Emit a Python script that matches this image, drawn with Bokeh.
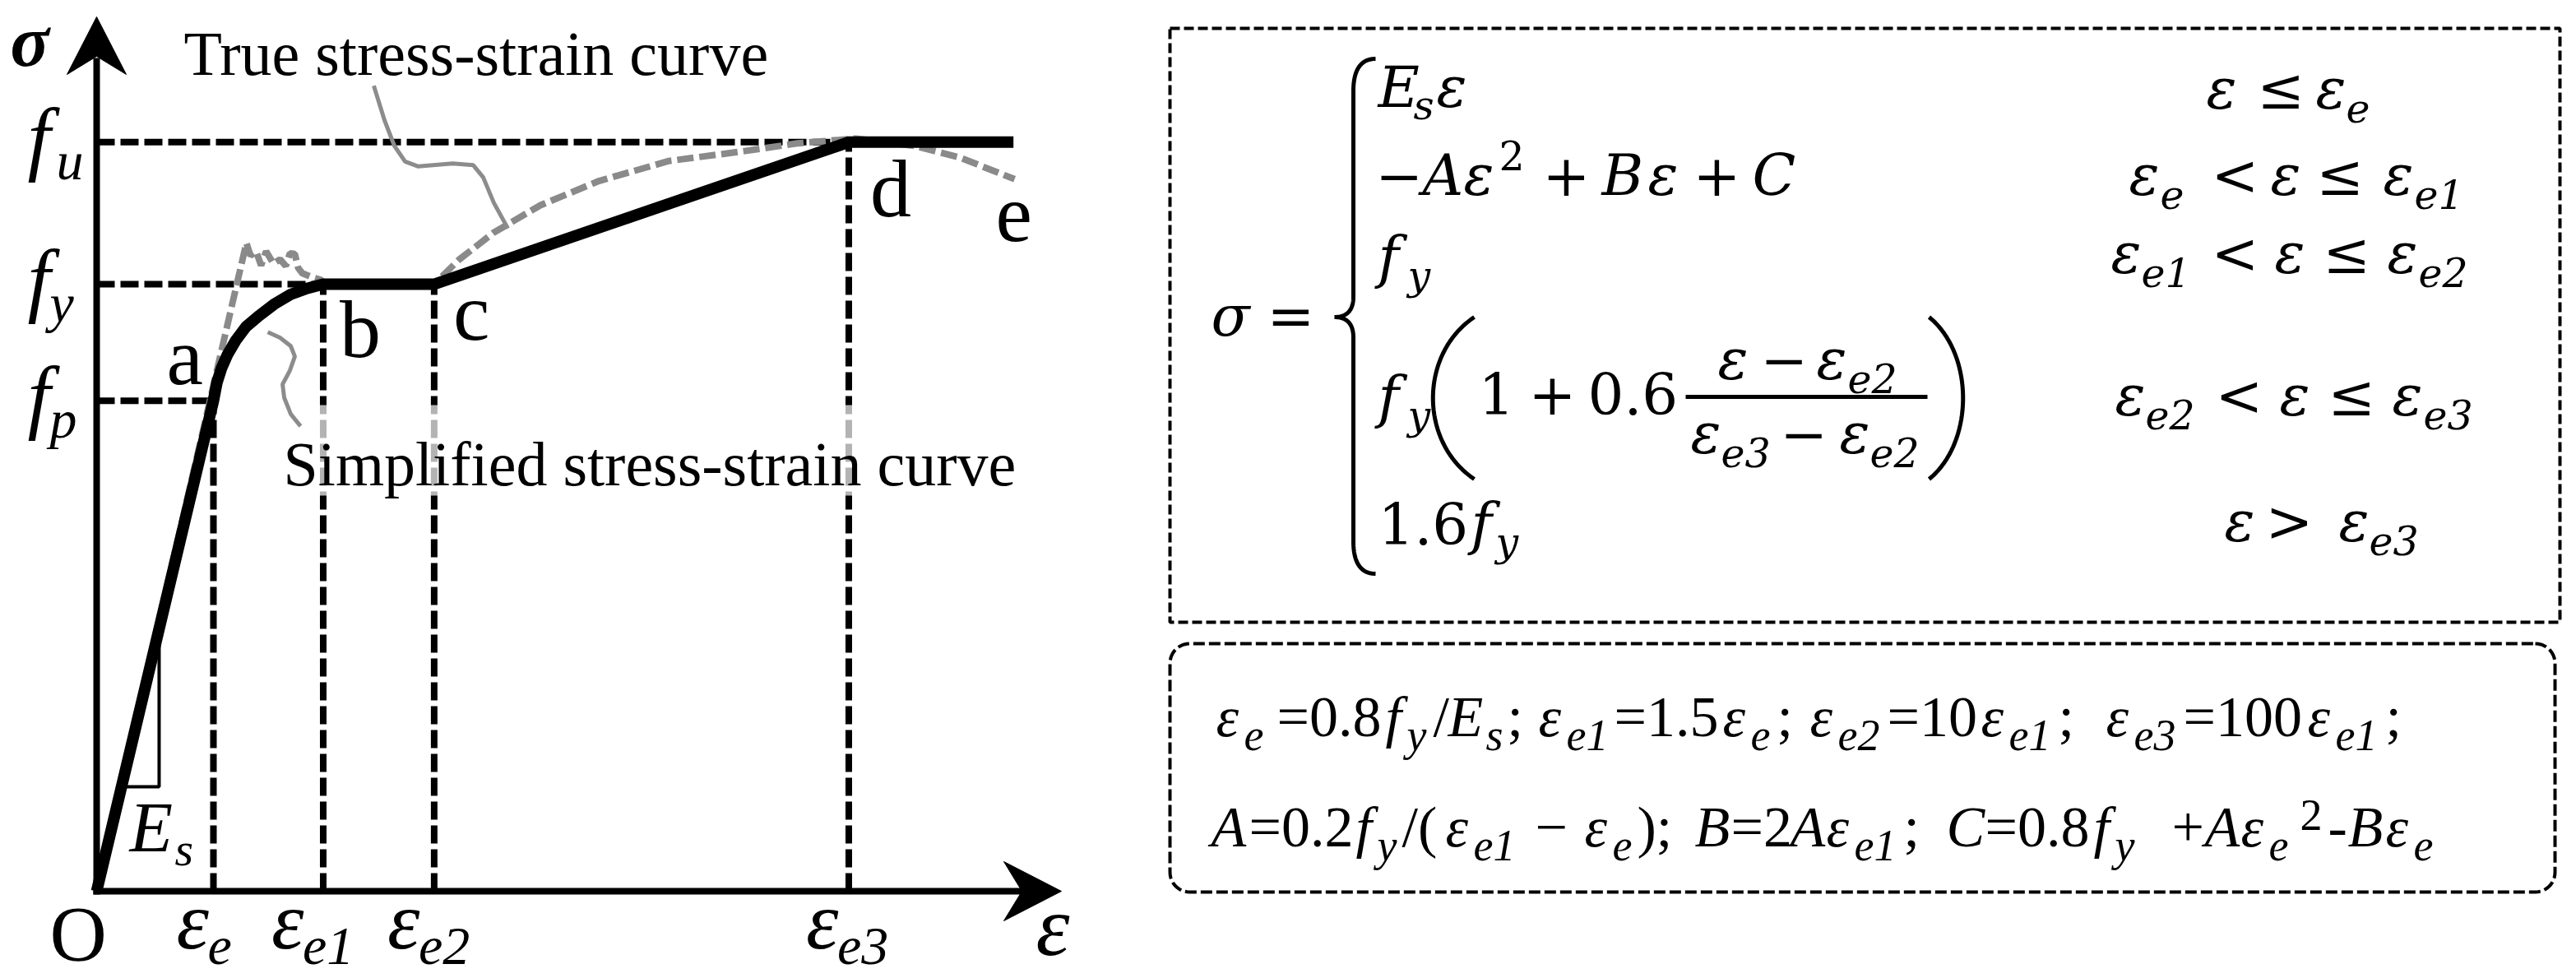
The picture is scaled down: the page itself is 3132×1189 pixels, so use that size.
import numpy as np
from bokeh.plotting import figure
from bokeh.layouts import row
from bokeh.models import Range1d
from bokeh.core.properties import value
from bokeh.embed import file_html
from bokeh.resources import INLINE

SERIF = "Liberation Serif"
MATH = "DejaVu Serif"
BASE_SHIFT = {SERIF: 0.3375, MATH: 0.346}   # baseline offset below a "middle"-anchored y (em)

# ---------------- data (schematic values) ----------------
tick_main = ["O", "ε", "ε", "ε", "ε"]
tick_sub = ["", "e", "e1", "e2", "e3"]
eps_ticks = [0.0, 1.00, 1.94, 2.89, 6.44]

stress_sub = ["p", "y", "u"]
stress_levels = [0.808, 1.000, 1.234]
stress_reach = [1.00, 1.94, 6.44]
vert_tops = [0.808, 1.000, 1.000, 1.234]

simp_eps = [0.0, 1.00, 1.03, 1.07, 1.12, 1.19, 1.28, 1.39, 1.52, 1.66, 1.80, 1.94, 2.89, 6.44, 7.85]
simp_sig = [0.0, 0.808, 0.838, 0.862, 0.884, 0.907, 0.930, 0.948, 0.967, 0.983, 0.993, 1.000, 1.000, 1.234, 1.234]

true_eps = [0.0, 1.282, 1.317, 1.366, 1.408, 1.451, 1.514, 1.570, 1.620, 1.655, 1.697, 1.725, 1.761,
            1.852, 1.923, 1.94, 2.89, 3.10, 3.40, 3.80, 4.30, 4.90, 5.50, 6.00, 6.50, 7.00, 7.40, 7.86]
true_sig = [0.0, 1.068, 1.047, 1.054, 1.031, 1.054, 1.034, 1.041, 1.030, 1.051, 1.050, 1.027, 1.018,
            1.011, 1.007, 1.000, 1.000, 1.040, 1.085, 1.130, 1.170, 1.203, 1.218, 1.232, 1.240, 1.228, 1.208, 1.173]

lead_true_eps = [2.373, 2.465, 2.549, 2.641, 2.754, 3.049, 3.225, 3.310, 3.401, 3.521]
lead_true_sig = [1.327, 1.270, 1.228, 1.202, 1.194, 1.199, 1.196, 1.176, 1.134, 1.092]
lead_simp_eps = [1.465, 1.570, 1.662, 1.697, 1.655, 1.592, 1.606, 1.662, 1.746]
lead_simp_sig = [0.921, 0.912, 0.898, 0.881, 0.858, 0.835, 0.813, 0.786, 0.766]

point_names = ["a", "b", "c", "d", "e"]
point_eps = [1.00, 1.94, 2.89, 6.44, 7.86]
point_sig = [0.808, 1.000, 1.000, 1.234, 1.173]

es_tri_eps = [0.213, 0.535, 0.535]
es_tri_sig = [0.172, 0.172, 0.432]

# ---------------- left panel ----------------
W1, H = 1400, 1189
PX0, PY0, KX, KY = 117.0, 1083.0, 142.0, 738.0
def X(px): return (px - PX0) / KX
def Y(py): return (PY0 - py) / KY
def PX(e): return PX0 + e * KX
def PY(s): return PY0 - s * KY

p1 = figure(width=W1, height=H, x_range=Range1d(X(0), X(W1)), y_range=Range1d(Y(H), Y(0)),
            output_backend="svg", toolbar_location=None, min_border=0,
            x_axis_location=None, y_axis_location=None)
p1.grid.grid_line_color = None
p1.outline_line_color = None

p1.segment(x0=[0.0] * 3, y0=stress_levels, x1=stress_reach, y1=stress_levels,
           line_color="black", line_width=8, line_dash="22 7")
p1.segment(x0=eps_ticks[1:], y0=[0.0] * 4, x1=eps_ticks[1:], y1=vert_tops,
           line_color="black", line_width=8, line_dash="22 7")

p1.line(true_eps, true_sig, line_color="#8a8a8a", line_width=8, line_dash="20 7")
p1.line(lead_true_eps, lead_true_sig, line_color="#8c8c8c", line_width=5)
p1.line(lead_simp_eps, lead_simp_sig, line_color="#8c8c8c", line_width=5)

p1.line(simp_eps, simp_sig, line_color="black", line_width=14, line_join="miter")
p1.line(es_tri_eps, es_tri_sig, line_color="black", line_width=4)

p1.line([0, 0], [Y(1087), Y(70)], line_color="black", line_width=8)
p1.line([X(113), X(1245)], [0, 0], line_color="black", line_width=8)
p1.patch([X(117), X(153), X(117), X(81)], [Y(20), Y(90), Y(68), Y(90)], color="black")
p1.patch([X(1290), X(1220), X(1242), X(1220)], [Y(1083), Y(1047), Y(1083), Y(1119)], color="black")

p1.quad(left=[X(372)], right=[X(1252)], bottom=[Y(602)], top=[Y(492)], fill_color="white",
        fill_alpha=0.7, line_color=None)

def t(p, s, x, y_base, size, style="normal", to_data=None, font=SERIF):
    y_mid = y_base - BASE_SHIFT[font] * size            # page pixels, y down
    xx, yy = (x, y_mid) if to_data is None else to_data(x, y_mid)
    p.text(x=[xx], y=[yy], text=[s], text_font=value(font), text_font_size=f"{size}px",
           text_font_style=style, text_color="black", text_baseline="middle", text_align="left")

def t1(s, px, py, size, style="normal"):
    t(p1, s, px, py, size, style, to_data=lambda a, b: (X(a), Y(b)))

t1("ε", 1259, 1160, 104, "italic")
for sb, lv in zip(stress_sub, stress_levels):
    t1("f", 33, PY(lv) + 28, 100, "italic")
    t1(sb, 60 if sb != "u" else 68, PY(lv) + 45, 66, "italic")
t1("E", 157, 1035, 86, "italic")
t1("s", 212, 1052, 58, "italic")
t1("True stress-strain curve", 223, 90, 76)
t1("Simplified stress-strain curve", 344, 589, 76)
pt_off = [(-57, -20), (20, 89), (23, 68), (26, 90), (-23, 76)]
for n, e, s, (dx, dy) in zip(point_names, point_eps, point_sig, pt_off):
    t1(n, PX(e) + dx, PY(s) + dy, 100)
tick_off = [-57, -45, -63, -57, -52]
for m, sb, e, dx in zip(tick_main, tick_sub, eps_ticks, tick_off):
    if m == "O":
        t1(m, PX(e) + dx, 1167, 96)
    else:
        t1(m, PX(e) + dx, 1153, 100, "italic")
        t1(sb, PX(e) + dx + 38, 1172, 66, "italic")
t1("σ", 12, 80, 88, "bold italic")

# ---------------- right panel ----------------
W2 = 1730
p2 = figure(width=W2, height=H, x_range=Range1d(1400, 1400 + W2), y_range=Range1d(H, 0),
            output_backend="svg", toolbar_location=None, min_border=0,
            x_axis_location=None, y_axis_location=None)
p2.grid.grid_line_color = None
p2.outline_line_color = None

def cubic(p0, c0, c1, p3, n=40):
    tt = np.linspace(0, 1, n)
    a = (1 - tt) ** 3; b = 3 * (1 - tt) ** 2 * tt; c = 3 * (1 - tt) * tt ** 2; d = tt ** 3
    return (list(a * p0[0] + b * c0[0] + c * c1[0] + d * p3[0]),
            list(a * p0[1] + b * c0[1] + c * c1[1] + d * p3[1]))

p2.line([1422, 3112, 3112, 1422, 1422], [34, 34, 756, 756, 34], line_color="black",
        line_width=4, line_dash="12 5")
L, R, T, B, r = 1422, 3106, 782, 1084, 24
xs, ys = [], []
for cx, cy, a0 in [(R - r, T + r, -90), (R - r, B - r, 0), (L + r, B - r, 90), (L + r, T + r, 180)]:
    ang = np.radians(np.linspace(a0, a0 + 90, 12))
    xs += list(cx + r * np.cos(ang)); ys += list(cy + r * np.sin(ang))
xs.append(xs[0]); ys.append(ys[0])
p2.line(xs, ys, line_color="black", line_width=4, line_dash="14 5")

bx, by = [], []
for seg in [((1672, 71), (1653, 71), (1645, 86), (1645, 110)),
            ((1645, 110), (1645, 200), (1645, 300), (1645, 360)),
            ((1645, 360), (1645, 377), (1637, 385), (1622, 385)),
            ((1622, 385), (1637, 385), (1645, 393), (1645, 410)),
            ((1645, 410), (1645, 500), (1645, 600), (1645, 658)),
            ((1645, 658), (1645, 682), (1653, 697), (1672, 697))]:
    sx_, sy_ = cubic(*seg)
    bx += sx_; by += sy_
p2.line(bx, by, line_color="black", line_width=5)
for x0, cx in [(1792, 1725), (2345, 2400)]:
    sx_, sy_ = cubic((x0, 385), (cx, 430), (cx, 537), (x0, 582))
    p2.line(sx_, sy_, line_color="black", line_width=5)
p2.line([2049, 2343], [482, 482], line_color="black", line_width=5)

M, S = 69, 49
IT, UP = "italic", "normal"
eq = [
    ("σ", 1472, 407, M, IT), ("=", 1540, 407, M, UP),
    ("E", 1675, 129, M, IT), ("s", 1718, 145, S, IT), ("ε", 1746, 129, M, IT),
    ("ε", 2682, 131, M, IT), ("≤", 2744, 131, M, UP), ("ε", 2815, 131, M, IT), ("e", 2852, 147, S, IT),
    ("−", 1672, 236, M, UP), ("A", 1729, 236, M, IT), ("ε", 1779, 236, M, IT), ("2", 1822, 205, S, UP),
    ("+", 1875, 236, M, UP), ("B", 1947, 236, M, IT), ("ε", 2003, 236, M, IT), ("+", 2058, 236, M, UP),
    ("C", 2130, 236, M, IT),
    ("ε", 2588, 236, M, IT), ("e", 2626, 252, S, IT), ("<", 2688, 236, M, UP), ("ε", 2760, 236, M, IT),
    ("≤", 2816, 236, M, UP), ("ε", 2897, 236, M, IT), ("e1", 2935, 252, S, IT),
    ("f", 1675, 336, M, IT), ("y", 1711, 352, S, IT),
    ("ε", 2566, 331, M, IT), ("e1", 2603, 347, S, IT), ("<", 2688, 331, M, UP), ("ε", 2765, 331, M, IT),
    ("≤", 2824, 331, M, UP), ("ε", 2902, 331, M, IT), ("e2", 2940, 347, S, IT),
    ("f", 1675, 506, M, IT), ("y", 1711, 522, S, IT), ("1", 1797, 502, M, UP), ("+", 1858, 502, M, UP),
    ("0.6", 1930, 502, M, UP),
    ("ε", 2088, 460, M, IT), ("−", 2140, 460, M, UP), ("ε", 2208, 460, M, IT), ("e2", 2246, 476, S, IT),
    ("ε", 2055, 550, M, IT), ("e3", 2092, 566, S, IT), ("−", 2164, 550, M, UP), ("ε", 2236, 550, M, IT),
    ("e2", 2273, 566, S, IT),
    ("ε", 2571, 504, M, IT), ("e2", 2608, 520, S, IT), ("<", 2693, 504, M, UP), ("ε", 2771, 504, M, IT),
    ("≤", 2830, 504, M, UP), ("ε", 2908, 504, M, IT), ("e3", 2946, 520, S, IT),
    ("1.6", 1675, 660, M, UP), ("f", 1788, 660, M, IT), ("y", 1818, 676, S, IT),
    ("ε", 2704, 657, M, IT), (">", 2754, 657, M, UP), ("ε", 2843, 657, M, IT), ("e3", 2880, 673, S, IT),
]
for s, x, y, sz, st in eq:
    t(p2, s, x, y, sz, st, font=MATH)

M2, S2 = 70, 54
I2, U2 = "italic", "normal"
b1, b2 = 895, 1029
d1 = 17
eq2 = [
    ("ε", 1478, b1, M2, I2), ("e", 1512, b1 + d1, S2, I2), ("=0.8", 1552, b1, M2, U2), ("f", 1684, b1, M2, I2),
    ("y", 1710, b1 + d1, S2, I2), ("/", 1742, b1, M2, U2), ("E", 1760, b1, M2, I2), ("s", 1806, b1 + d1, S2, I2),
    (";", 1832, b1, M2, U2), ("ε", 1870, b1, M2, I2), ("e1", 1904, b1 + d1, S2, I2), ("=1.5", 1962, b1, M2, U2),
    ("ε", 2094, b1, M2, I2), ("e", 2128, b1 + d1, S2, I2), (";", 2160, b1, M2, U2), ("ε", 2200, b1, M2, I2),
    ("e2", 2234, b1 + d1, S2, I2), ("=10", 2294, b1, M2, U2), ("ε", 2408, b1, M2, I2), ("e1", 2442, b1 + d1, S2, I2),
    (";", 2502, b1, M2, U2), ("ε", 2560, b1, M2, I2), ("e3", 2594, b1 + d1, S2, I2), ("=100", 2654, b1, M2, U2),
    ("ε", 2805, b1, M2, I2), ("e1", 2839, b1 + d1, S2, I2), (";", 2900, b1, M2, U2),
    ("A", 1472, b2, M2, I2), ("=0.2", 1518, b2, M2, U2), ("f", 1648, b2, M2, I2), ("y", 1674, b2 + d1, S2, I2),
    ("/(", 1704, b2, M2, U2), ("ε", 1757, b2, M2, I2), ("e1", 1791, b2 + d1, S2, I2), ("−", 1866, b2, M2, U2),
    ("ε", 1926, b2, M2, I2), ("e", 1960, b2 + d1, S2, I2), (");", 1990, b2, M2, U2), ("B", 2060, b2, M2, I2),
    ("=2", 2104, b2, M2, U2), ("A", 2176, b2, M2, I2), ("ε", 2220, b2, M2, I2), ("e1", 2254, b2 + d1, S2, I2),
    (";", 2314, b2, M2, U2), ("C", 2366, b2, M2, I2), ("=0.8", 2413, b2, M2, U2), ("f", 2545, b2, M2, I2),
    ("y", 2571, b2 + d1, S2, I2), ("+", 2640, b2, M2, U2), ("A", 2680, b2, M2, I2), ("ε", 2724, b2, M2, I2),
    ("e", 2758, b2 + d1, S2, I2), ("2", 2796, b2 - 20, S2, U2), ("-", 2830, b2, M2, U2), ("B", 2854, b2, M2, I2),
    ("ε", 2900, b2, M2, I2), ("e", 2934, b2 + d1, S2, I2),
]
for s, x, y, sz, st in eq2:
    t(p2, s, x, y, sz, st)

layout = row(p1, p2)
open("out.html", "w").write(file_html(layout, INLINE))
